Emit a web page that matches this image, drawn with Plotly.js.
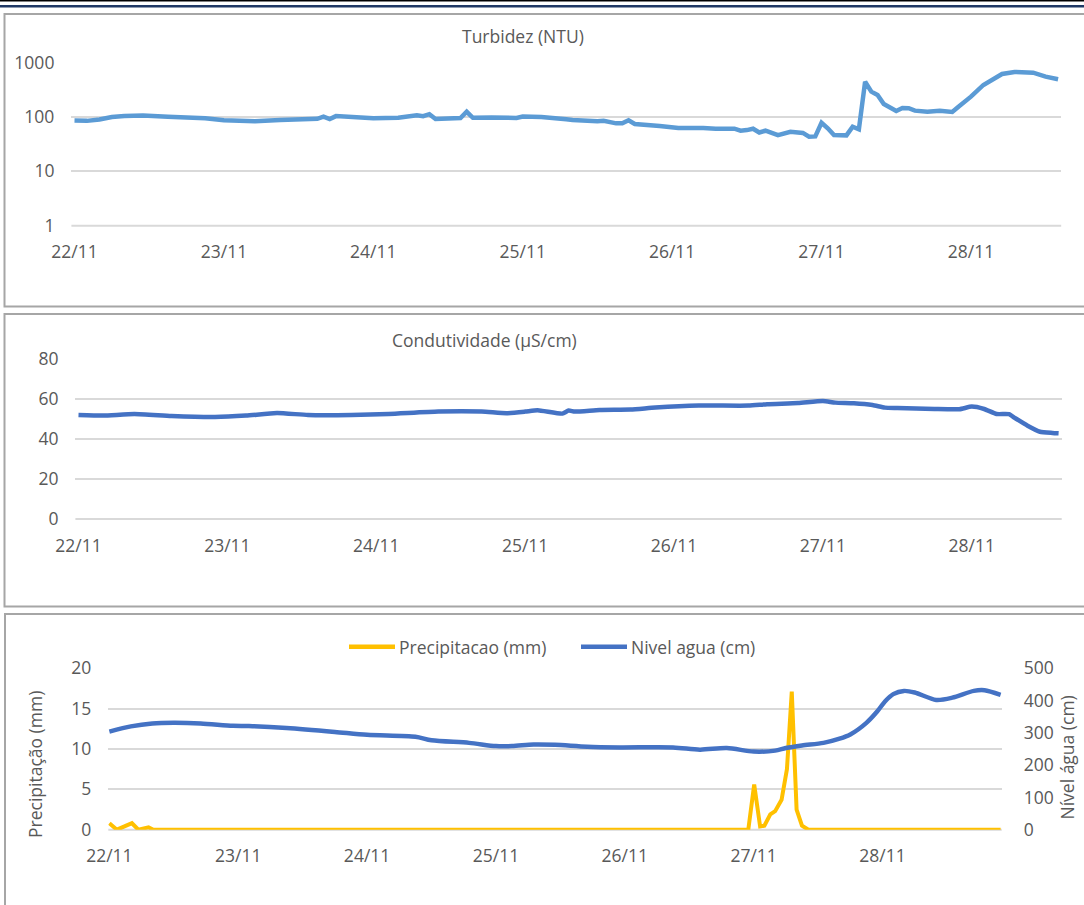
<!DOCTYPE html>
<html>
<head>
<meta charset="utf-8">
<script src="https://cdn.plot.ly/plotly-3.0.1.min.js"></script>
<style>
html,body{margin:0;padding:0;background:#fff;}
#chart{width:1084px;height:905px;}
</style>
</head>
<body>
<div id="chart"></div>
<script>
// ---- data (hours since 22/11 00:00) ----
const dayTickHours = [0, 24, 48, 72, 96, 120, 144];
const dayTickLabels = ["22/11", "23/11", "24/11", "25/11", "26/11", "27/11", "28/11"];

const turbHours = [0,2,4,6,8,11,15,18,21,24,29,33,36,39,40,41,42,45,48,52,55,56,57,58,62,63,64,67,71,72,75,79,80,84,85,87,88,89,90,94,97,101,103,106,107,108,109,110,111,113,115,117,118,119,120,121,122,124,125,126,127,128,129,130,132,133,134,135,137,139,141,142,144,146,148,149,151,153,154,156,158];
const turbNTU = [86,85,90,100,104,107,101,98,95,87,84,88,91,93,102,92,104,98,95,97,108,104,113,92,96,125,97,98,96,102,100,91,88,83.5,85,76.5,76.5,87,74.5,68.5,63,63,61,61,56,57.5,61,52,56,46.5,53.5,51,43.5,44,78.5,62,46.5,46,66.5,59.5,447,293,254,174,129,147,145,131,125,131,124,155,237,389,517,620,675,655,655,553,495];

const condHours = [0,4,9,15,22,27,32,37,44,50,58,65,69,72,74,78,79,80,84,89,93,100,108,111,116,120,122,125,128,130,132,138,142,144,146,148,150,151,153,155,157,158];
const condUScm = [52.1,51.8,52.6,51.6,51.1,51.8,53.1,52.1,52.1,52.6,53.8,53.8,53.0,53.8,54.5,52.8,54.3,53.8,54.6,54.8,55.8,56.8,56.8,57.5,58.1,59.1,58.3,58.0,57.1,55.8,55.6,55.1,55.0,56.3,55.1,52.6,52.5,50.5,46.7,43.7,43.1,42.9];

const levelHours = [0,4,8,12,17,23,26,33,42,48,57,60,67,72,75,79,83,89,95,105,110,115,120,124,126,129,133,136,138,141,143,144.5,146,148,150,154,157,161,163,166];
const levelCm = [304,320,329,331,329,322,321,315,303,294,288,277,269,259,259,264,263,257,255,255,248,253,242,245,253,261,269,282,295,331,366,398,420,430,425,402,409,430,432,418];

const rainHours = [0,1.4,4.2,5.4,7.3,8.2,119,120.1,121.2,122,123.1,124,125.2,126.2,127.1,128,129,130.2,166];
const rainMm = [0.8,0,0.8,0,0.3,0,0,5.6,0.4,0.5,1.9,2.3,3.7,7.5,17.1,2.5,0.5,0,0];

const seriesNames = ["Precipitacao (mm)", "Nivel agua (cm)"];

// ---- layout helpers (pixel -> paper) ----
const W = 1084, H = 905;
const fx = v => v / W;
const fy = v => 1 - v / H;
const TXT = "#595959";
const FONT = "Open Sans, Noto Sans, sans-serif";
const GRID = "#D9D9D9";
const RAIN_C = "#FFC000", LEVEL_C = "#4472C4";

const traces = [
  {x: turbHours, y: turbNTU, xaxis: "x", yaxis: "y", type: "scatter", mode: "lines",
   line: {color: "#5B9BD5", width: 4.5}, name: "Turbidez (NTU)"},
  {x: condHours, y: condUScm, xaxis: "x2", yaxis: "y2", type: "scatter", mode: "lines",
   line: {color: "#4472C4", width: 4.5, shape: "spline", smoothing: 0.5}, name: "Condutividade (µS/cm)"},
  {x: rainHours, y: rainMm, xaxis: "x3", yaxis: "y3", type: "scatter", mode: "lines",
   line: {color: RAIN_C, width: 4}, name: seriesNames[0]},
  {x: levelHours, y: levelCm, xaxis: "x3", yaxis: "y4", type: "scatter", mode: "lines",
   line: {color: LEVEL_C, width: 4.5, shape: "spline", smoothing: 0.8}, name: seriesNames[1]}
];

const tickFont = {family: FONT, size: 17.5, color: TXT};
function xAx(domain, range, anchor) {
  return {domain: domain, range: range, anchor: anchor, tickmode: "array", tickvals: dayTickHours, ticktext: dayTickLabels,
    showgrid: false, zeroline: false, showline: false, ticks: "", tickfont: tickFont,
    ticklabelstandoff: 14, fixedrange: true};
}
function yAx(domain, anchor, extra) {
  return Object.assign({domain: domain, anchor: anchor, showgrid: true, gridcolor: GRID, gridwidth: 2, zeroline: false,
    showline: false, ticks: "", tickfont: tickFont, ticklabelstandoff: 16, fixedrange: true}, extra);
}
function baseGrid(xr, yr) {
  return {type: "line", xref: xr + " domain", yref: yr + " domain", x0: 0, x1: 1, y0: 0, y1: 0,
    line: {color: GRID, width: 2}, layer: "below"};
}

const layout = {
  width: W, height: H,
  margin: {l: 0, r: 0, t: 0, b: 0},
  paper_bgcolor: "#fff", plot_bgcolor: "rgba(0,0,0,0)",
  font: {family: FONT, color: TXT},
  showlegend: false,
  xaxis: xAx([fx(71.4), fx(1061.2)], [-0.5, 158.5], "y"),
  yaxis: yAx([fy(225.7), fy(62.7)], "x", {type: "log", range: [0, 3], tickmode: "array", tickvals: [1, 10, 100, 1000], ticktext: ["1", "10", "100", "1000"]}),
  xaxis2: xAx([fx(75.4), fx(1061.7)], [-0.5, 158.5], "y2"),
  yaxis2: yAx([fy(519), fy(359.3)], "x2", {range: [0, 80], dtick: 20, tick0: 0}),
  xaxis3: xAx([fx(108.3), fx(1001.7)], [-0.2, 166.2], "y3"),
  yaxis3: yAx([fy(829.7), fy(668.3)], "x3", {range: [0, 20], dtick: 5, tick0: 0}),
  yaxis4: yAx([fy(829.7), fy(668.3)], "x3", {range: [0, 500], dtick: 100, tick0: 0, overlaying: "y3", side: "right", showgrid: false, ticklabelstandoff: 21}),
  shapes: [
    {type: "line", xref: "paper", yref: "paper", x0: 0, x1: 1, y0: fy(0.8), y1: fy(0.8), line: {color: "#000", width: 1.5}},
    {type: "line", xref: "paper", yref: "paper", x0: 0, x1: 1, y0: fy(6.2), y1: fy(6.2), line: {color: "#1F3864", width: 2.5}},
    {type: "rect", xref: "paper", yref: "paper", x0: fx(4.5), x1: fx(1092), y0: fy(306.5), y1: fy(14), line: {color: "#A6A6A6", width: 2}},
    {type: "rect", xref: "paper", yref: "paper", x0: fx(4.5), x1: fx(1092), y0: fy(606.5), y1: fy(314), line: {color: "#A6A6A6", width: 2}},
    {type: "rect", xref: "paper", yref: "paper", x0: fx(5), x1: fx(1092), y0: fy(912), y1: fy(614), line: {color: "#A6A6A6", width: 2}},
    baseGrid("x", "y"), baseGrid("x2", "y2"), baseGrid("x3", "y3"),
    // legend samples
    {type: "line", xref: "paper", yref: "paper", x0: fx(349), x1: fx(395), y0: fy(646.7), y1: fy(646.7), line: {color: RAIN_C, width: 4.5}},
    {type: "line", xref: "paper", yref: "paper", x0: fx(581), x1: fx(627), y0: fy(646.7), y1: fy(646.7), line: {color: LEVEL_C, width: 4.5}}
  ],
  annotations: [
    {text: "Turbidez (NTU)", xref: "paper", yref: "paper", x: fx(523), y: fy(35.5), xanchor: "center", yanchor: "middle",
     showarrow: false, font: {family: FONT, size: 17.5, color: TXT}},
    {text: "Condutividade (µS/cm)", xref: "paper", yref: "paper", x: fx(484), y: fy(340), xanchor: "center", yanchor: "middle",
     showarrow: false, font: {family: FONT, size: 17.5, color: TXT}},
    {text: "Precipitação (mm)", xref: "paper", yref: "paper", x: fx(35), y: fy(765), xanchor: "center", yanchor: "middle",
     textangle: -90, showarrow: false, font: {family: FONT, size: 17.5, color: TXT}},
    {text: "Nível água (cm)", xref: "paper", yref: "paper", x: fx(1066.5), y: fy(758), xanchor: "center", yanchor: "middle",
     textangle: -90, showarrow: false, font: {family: FONT, size: 17.5, color: TXT}},
    {text: seriesNames[0], xref: "paper", yref: "paper", x: fx(397), y: fy(646.7), xanchor: "left", yanchor: "middle",
     showarrow: false, font: {family: FONT, size: 17.5, color: TXT}},
    {text: seriesNames[1], xref: "paper", yref: "paper", x: fx(629), y: fy(646.7), xanchor: "left", yanchor: "middle",
     showarrow: false, font: {family: FONT, size: 17.5, color: TXT}}
  ]
};

Plotly.newPlot("chart", traces, layout, {staticPlot: true, displayModeBar: false});
</script>
</body>
</html>
